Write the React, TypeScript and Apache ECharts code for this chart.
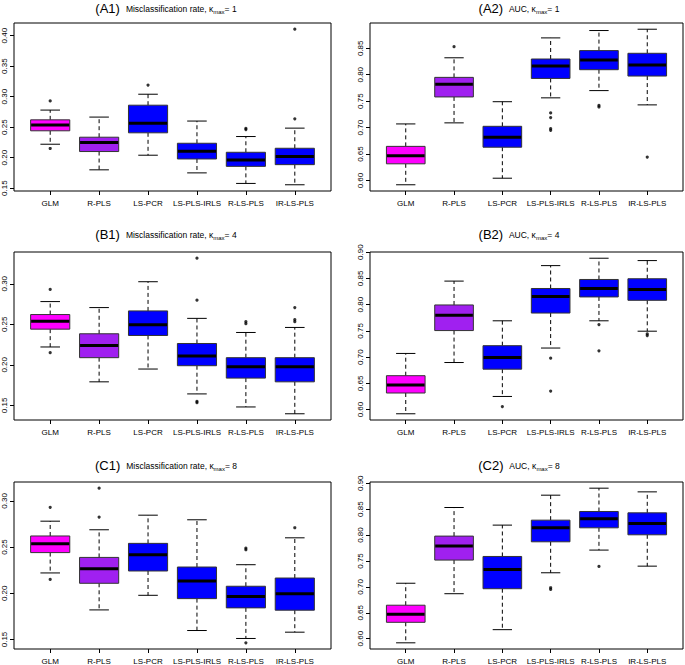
import { useEffect, useRef } from 'react';
import * as echarts from 'echarts';

const methods = ['GLM', 'R-PLS', 'LS-PCR', 'LS-PLS-IRLS', 'R-LS-PLS', 'IR-LS-PLS'];

// Box statistics per method: [lower whisker, Q1, median, Q3, upper whisker]
const a1Stats = [
  [0.222, 0.244, 0.2536, 0.262, 0.278],
  [0.180, 0.210, 0.225, 0.2335, 0.2665],
  [0.204, 0.2407, 0.2566, 0.286, 0.304],
  [0.175, 0.1978, 0.2104, 0.2236, 0.260],
  [0.1577, 0.1857, 0.196, 0.2088, 0.2346],
  [0.1555, 0.1885, 0.202, 0.2154, 0.2484],
];
// Outliers: [method index, value]
const a1Outliers = [
  [0, 0.293], [0, 0.215], [2, 0.319], [4, 0.248], [4, 0.246], [5, 0.4106], [5, 0.2637],
];

const a2Stats = [
  [0.592, 0.6316, 0.647, 0.6646, 0.707],
  [0.709, 0.758, 0.782, 0.795, 0.832],
  [0.6044, 0.663, 0.682, 0.7025, 0.749],
  [0.7563, 0.793, 0.8165, 0.8297, 0.8696],
  [0.770, 0.8095, 0.8278, 0.8456, 0.8835],
  [0.743, 0.7975, 0.8184, 0.8405, 0.886],
];
const a2Outliers = [
  [1, 0.853], [3, 0.7278], [3, 0.719], [3, 0.698], [3, 0.695], [4, 0.742], [4, 0.739], [5, 0.6443],
];

const b1Stats = [
  [0.222, 0.244, 0.2536, 0.262, 0.278],
  [0.179, 0.2088, 0.2238, 0.2383, 0.2706],
  [0.1948, 0.2362, 0.2495, 0.2665, 0.3025],
  [0.1641, 0.1989, 0.2109, 0.2263, 0.2573],
  [0.148, 0.1836, 0.1977, 0.2088, 0.2399],
  [0.1396, 0.179, 0.1977, 0.2088, 0.2461],
];
const b1Outliers = [
  [0, 0.293], [0, 0.215], [3, 0.3315], [3, 0.2797], [3, 0.155], [3, 0.1533],
  [4, 0.2532], [4, 0.2507], [5, 0.2706], [5, 0.2557], [5, 0.2532],
];

const b2Stats = [
  [0.592, 0.6316, 0.647, 0.6646, 0.707],
  [0.6897, 0.7506, 0.780, 0.7994, 0.8449],
  [0.625, 0.677, 0.6994, 0.7218, 0.7692],
  [0.7173, 0.784, 0.8154, 0.8308, 0.8744],
  [0.7692, 0.8147, 0.8308, 0.848, 0.8885],
  [0.7494, 0.8083, 0.8288, 0.8494, 0.884],
];
const b2Outliers = [
  [2, 0.6058], [3, 0.698], [3, 0.6353], [4, 0.762], [4, 0.712], [5, 0.7442], [5, 0.741],
];

const c1Stats = [
  [0.222, 0.244, 0.2536, 0.262, 0.278],
  [0.182, 0.2108, 0.2266, 0.2388, 0.2687],
  [0.1978, 0.2241, 0.2417, 0.254, 0.2845],
  [0.1597, 0.1942, 0.2133, 0.2284, 0.2795],
  [0.1511, 0.1842, 0.1964, 0.2076, 0.2309],
  [0.1579, 0.1817, 0.1996, 0.2165, 0.260],
];
const c1Outliers = [
  [0, 0.293], [0, 0.215], [1, 0.3137], [1, 0.2824], [4, 0.2489], [4, 0.2471], [4, 0.1464], [5, 0.2709],
];

const c2Stats = [
  [0.592, 0.6316, 0.647, 0.6646, 0.707],
  [0.6868, 0.7517, 0.7787, 0.798, 0.8532],
  [0.6174, 0.6964, 0.7337, 0.7587, 0.8192],
  [0.7272, 0.787, 0.814, 0.8288, 0.877],
  [0.771, 0.814, 0.8314, 0.8455, 0.8905],
  [0.740, 0.8005, 0.8224, 0.8429, 0.8834],
];
const c2Outliers = [
  [3, 0.6983], [3, 0.6951], [4, 0.7395],
];

// Tick labels
const a1Ticks = [0.15, 0.2, 0.25, 0.3, 0.35, 0.4];
const a2Ticks = [0.6, 0.65, 0.7, 0.75, 0.8, 0.85];
const b1Ticks = [0.15, 0.2, 0.25, 0.3];
const b2Ticks = [0.6, 0.65, 0.7, 0.75, 0.8, 0.85, 0.9];
const c1Ticks = [0.15, 0.2, 0.25, 0.3];
const c2Ticks = [0.6, 0.65, 0.7, 0.75, 0.8, 0.85, 0.9];

const panelTags = ['(A1)', '(A2)', '(B1)', '(B2)', '(C1)', '(C2)'];
const panelMeasures = ['Misclassification rate, κ', 'AUC, κ', 'Misclassification rate, κ', 'AUC, κ', 'Misclassification rate, κ', 'AUC, κ'];
const panelKappa = ['1', '1', '4', '4', '8', '8'];

const boxColors = ['#FF00FF', '#A020F0', '#0000FF', '#0000FF', '#0000FF', '#0000FF'];
const FONT = '"Liberation Sans", Arial, Helvetica, sans-serif';

const panels = [
  { stats: a1Stats, outliers: a1Outliers, ticks: a1Ticks },
  { stats: a2Stats, outliers: a2Outliers, ticks: a2Ticks },
  { stats: b1Stats, outliers: b1Outliers, ticks: b1Ticks },
  { stats: b2Stats, outliers: b2Outliers, ticks: b2Ticks },
  { stats: c1Stats, outliers: c1Outliers, ticks: c1Ticks },
  { stats: c2Stats, outliers: c2Outliers, ticks: c2Ticks },
];

// layout
const colLeft = [14, 370];
const colWidth = [317, 313];
const rowTop = [23, 252, 482];
const rowHeight = [168, 168, 167];
const titleX = [166, 519];
const titleY = [7, 233, 464.5];

function extent(stats: number[][], outliers: number[][]) {
  const vals: number[] = [];
  stats.forEach((s) => s.forEach((v) => vals.push(v)));
  outliers.forEach((o) => vals.push(o[1]));
  const lo = Math.min(...vals);
  const hi = Math.max(...vals);
  const pad = (hi - lo) * 0.04;
  return [lo - pad, hi + pad];
}

function renderBox(params: any, api: any) {
  const x = api.value(0);
  const idx = params.dataIndex;
  const lo = api.coord([x, api.value(1)]);
  const q1 = api.coord([x, api.value(2)]);
  const md = api.coord([x, api.value(3)]);
  const q3 = api.coord([x, api.value(4)]);
  const hi = api.coord([x, api.value(5)]);
  const bw = api.size([0.8, 0])[0];
  const sw = api.size([0.4, 0])[0];
  const cx = lo[0];
  const dashed = { stroke: '#000', lineWidth: 1, lineDash: [4, 3] };
  const solid = { stroke: '#000', lineWidth: 1 };
  return {
    type: 'group',
    children: [
      { type: 'line', shape: { x1: cx, y1: q3[1], x2: cx, y2: hi[1] }, style: dashed },
      { type: 'line', shape: { x1: cx, y1: q1[1], x2: cx, y2: lo[1] }, style: dashed },
      { type: 'line', shape: { x1: cx - sw / 2, y1: hi[1], x2: cx + sw / 2, y2: hi[1] }, style: solid },
      { type: 'line', shape: { x1: cx - sw / 2, y1: lo[1], x2: cx + sw / 2, y2: lo[1] }, style: solid },
      {
        type: 'rect',
        shape: { x: cx - bw / 2, y: q3[1], width: bw, height: q1[1] - q3[1] },
        style: { fill: boxColors[idx], stroke: '#333', lineWidth: 1 },
      },
      { type: 'line', shape: { x1: cx - bw / 2 + 0.5, y1: md[1], x2: cx + bw / 2 - 0.5, y2: md[1] }, style: { stroke: '#000', lineWidth: 3 } },
    ],
  };
}

export default function App() {
  const ref = useRef<HTMLDivElement>(null);
  useEffect(() => {
    if (!ref.current) return;
    const chart = echarts.init(ref.current, null, { renderer: 'svg' });
    const grid: any[] = [];
    const xAxis: any[] = [];
    const yAxis: any[] = [];
    const series: any[] = [];
    const title: any[] = [];
    const catValues = methods.map((_, i) => i + 1);
    panels.forEach((p, i) => {
      const col = i % 2;
      const row = Math.floor(i / 2);
      grid.push({
        left: colLeft[col], top: rowTop[row], width: colWidth[col], height: rowHeight[row],
        show: true, borderColor: '#000', borderWidth: 1, backgroundColor: 'transparent',
      });
      xAxis.push({
        type: 'value', gridIndex: i, min: 0.26, max: 6.74,
        axisLine: { show: false },
        splitLine: { show: false },
        axisTick: { show: true, customValues: catValues, length: 4, lineStyle: { color: '#000' } },
        axisLabel: {
          customValues: catValues, margin: 8, fontSize: 8, color: '#000', fontFamily: FONT,
          formatter: (v: number) => methods[Math.round(v) - 1] ?? '',
        },
      });
      const [mn, mx] = extent(p.stats, p.outliers);
      yAxis.push({
        type: 'value', gridIndex: i, min: mn, max: mx,
        axisLine: { show: false },
        splitLine: { show: false },
        axisTick: { show: true, customValues: p.ticks, length: 4, lineStyle: { color: '#000' } },
        axisLabel: {
          customValues: p.ticks, rotate: 90, margin: 6, fontSize: 8, color: '#000', fontFamily: FONT,
          formatter: (v: number) => v.toFixed(2),
        },
      });
      series.push({
        type: 'custom', xAxisIndex: i, yAxisIndex: i,
        data: p.stats.map((s, j) => [j + 1, ...s]),
        encode: { x: 0, y: [1, 2, 3, 4, 5] },
        renderItem: renderBox,
        silent: true,
      });
      series.push({
        type: 'scatter', xAxisIndex: i, yAxisIndex: i,
        data: p.outliers.map((o) => [o[0] + 1, o[1]]),
        symbol: 'circle', symbolSize: 3.2,
        itemStyle: { color: '#000' },
        silent: true,
      });
      title.push({
        text: `{big|${panelTags[i]} }{small| ${panelMeasures[i]}}{sub|max}{small|= ${panelKappa[i]}}`,
        left: titleX[col], top: titleY[row], textAlign: 'center', textVerticalAlign: 'middle', padding: 0,
        textStyle: {
          fontWeight: 'normal',
          rich: {
            big: { fontSize: 13, fontFamily: FONT, fontWeight: 'normal', color: '#000', lineHeight: 15, verticalAlign: 'bottom' },
            small: { fontSize: 8.5, fontFamily: FONT, fontWeight: 'normal', color: '#000', lineHeight: 11, verticalAlign: 'bottom', padding: [0, 0, 1.5, 0] },
            sub: { fontSize: 6, fontFamily: FONT, fontWeight: 'normal', color: '#000', lineHeight: 7, verticalAlign: 'bottom' },
          },
        },
      });
    });
    chart.setOption({
      animation: false,
      backgroundColor: '#fff',
      title, grid, xAxis, yAxis, series,
    });
    return () => chart.dispose();
  }, []);
  return <div ref={ref} style={{ position: 'fixed', left: 0, top: 0, width: 685, height: 665 }} />;
}
